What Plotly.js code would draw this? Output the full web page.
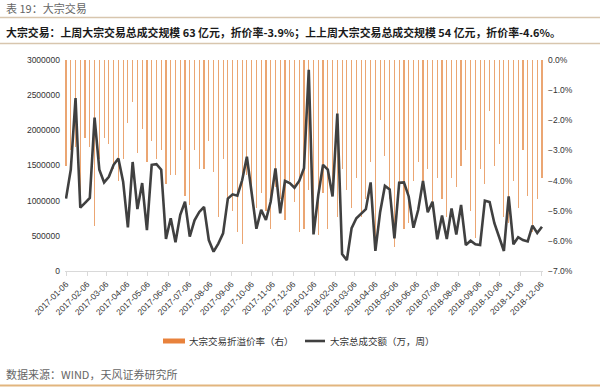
<!DOCTYPE html>
<html>
<head>
<meta charset="utf-8">
<script src="https://cdn.plot.ly/plotly-3.0.1.min.js"></script>
<style>
html,body{margin:0;padding:0;background:#fff;}
#chart{width:600px;height:387px;}
</style>
</head>
<body>
<div id="chart"></div>
<script>
// Weekly dates (categories)
const weeks = ['2017-01-06','2017-01-13','2017-01-20','2017-01-27','2017-02-03','2017-02-10','2017-02-17','2017-02-24','2017-03-03','2017-03-10','2017-03-17','2017-03-24','2017-03-31','2017-04-07','2017-04-14','2017-04-21','2017-04-28','2017-05-05','2017-05-12','2017-05-19','2017-05-26','2017-06-02','2017-06-09','2017-06-16','2017-06-23','2017-06-30','2017-07-07','2017-07-14','2017-07-21','2017-07-28','2017-08-04','2017-08-11','2017-08-18','2017-08-25','2017-09-01','2017-09-08','2017-09-15','2017-09-22','2017-09-29','2017-10-06','2017-10-13','2017-10-20','2017-10-27','2017-11-03','2017-11-10','2017-11-17','2017-11-24','2017-12-01','2017-12-08','2017-12-15','2017-12-22','2017-12-29','2018-01-05','2018-01-12','2018-01-19','2018-01-26','2018-02-02','2018-02-09','2018-02-16','2018-02-23','2018-03-02','2018-03-09','2018-03-16','2018-03-23','2018-03-30','2018-04-06','2018-04-13','2018-04-20','2018-04-27','2018-05-04','2018-05-11','2018-05-18','2018-05-25','2018-06-01','2018-06-08','2018-06-15','2018-06-22','2018-06-29','2018-07-06','2018-07-13','2018-07-20','2018-07-27','2018-08-03','2018-08-10','2018-08-17','2018-08-24','2018-08-31','2018-09-07','2018-09-14','2018-09-21','2018-09-28','2018-10-05','2018-10-12','2018-10-19','2018-10-26','2018-11-02','2018-11-09','2018-11-16','2018-11-23','2018-11-30','2018-12-07'];

// 大宗交易折溢价率（右）, %
const discountRate = [-3.5,-3.0,-2.9,-4.4,-2.6,-2.9,-5.5,-3.3,-2.6,-2.8,
  -3.6,-4.0,-3.3,-2.1,-1.4,-3.1,-2.3,-3.4,-2.7,-3.3,
  -3.0,-4.1,-3.8,-3.8,-3.0,-4.5,-4.8,-3.0,-3.6,-3.6,
  -2.7,-3.7,-5.2,-3.3,-4.7,-5.0,-5.7,-6.1,-3.8,-4.5,
  -4.9,-4.4,-5.0,-5.6,-4.2,-4.6,-5.3,-4.0,-4.7,-5.7,
  -5.6,-4.3,-5.1,-5.8,-4.4,-5.6,-4.0,-5.2,-3.6,-4.3,
  -4.9,-3.9,-5.2,-4.6,-3.4,-6.1,-2.0,-3.2,-4.6,-6.2,
  -4.2,-5.6,-5.4,-4.0,-3.4,-4.0,-3.6,-4.9,-3.9,-4.6,
  -5.2,-3.9,-4.2,-3.5,-3.0,-5.0,-5.9,-3.6,-4.1,-1.7,
  -3.5,-2.8,-5.2,-5.4,-4.0,-4.9,-3.0,-4.5,-5.7,-4.6,-3.9];

// 大宗总成交额（万，周）
const turnover = [1030000,1440000,2460000,900000,970000,1040000,2180000,1440000,1260000,1340000,
  1510000,1600000,1270000,620000,1550000,880000,1250000,580000,1510000,1520000,
  1440000,455000,750000,410000,800000,985000,490000,720000,840000,910000,
  440000,275000,390000,535000,1030000,1090000,1070000,1290000,1625000,1080000,
  600000,870000,725000,985000,1460000,820000,1280000,1250000,1185000,1280000,
  1460000,2860000,520000,1080000,1510000,1440000,1060000,2240000,240000,155000,
  610000,750000,810000,880000,1260000,285000,840000,1210000,1160000,465000,
  1255000,1260000,1060000,615000,870000,1280000,835000,985000,450000,790000,
  455000,890000,520000,940000,370000,430000,380000,370000,1000000,980000,
  680000,490000,285000,1060000,380000,480000,440000,420000,645000,540000,630000];

// Monthly tick labels
const monthTicks = ['2017-01-06','2017-02-06','2017-03-06','2017-04-06','2017-05-06','2017-06-06','2017-07-06','2017-08-06','2017-09-06','2017-10-06','2017-11-06','2017-12-06','2018-01-06','2018-02-06','2018-03-06','2018-04-06','2018-05-06','2018-06-06','2018-07-06','2018-08-06','2018-09-06','2018-10-06','2018-11-06','2018-12-06'];

const seriesNames = ['大宗交易折溢价率（右）','大宗总成交额（万，周）'];
const headerText = '表 19：大宗交易';
const summaryText = '大宗交易：上周大宗交易总成交规模 63 亿元，折价率-3.9%；上上周大宗交易总成交规模 54 亿元，折价率-4.6%。';
const sourceText = '数据来源：WIND，天风证券研究所';

const L = 65, R = 543, T = 60, B = 271;
const W = 600, H = 387;
const px = x => (x - L) / (R - L);
const py = y => (B - y) / (B - T);

const cjk = '"Noto Sans CJK SC", "Noto Sans", sans-serif';
const num = '"Liberation Sans", Arial, sans-serif';

const traces = [
  {
    type: 'bar', x: weeks, y: discountRate, name: seriesNames[0],
    yaxis: 'y', width: 1.7 * 86400000,
    marker: {color: '#EBA673', line: {width: 0}},
    hoverinfo: 'skip'
  },
  {
    type: 'scatter', mode: 'lines', x: weeks, y: turnover, name: seriesNames[1],
    yaxis: 'y2', line: {color: '#404040', width: 2.6}, hoverinfo: 'skip'
  }
];

const layout = {
  width: W, height: H,
  margin: {l: L, r: W - R, t: T, b: H - B, pad: 0},
  paper_bgcolor: '#fff', plot_bgcolor: '#fff',
  showlegend: false,
  bargap: 0,
  xaxis: {
    type: 'date', range: ['2017-01-04 12:00', '2018-12-08 12:00'],
    tickmode: 'array', tickvals: monthTicks, ticktext: monthTicks,
    tickangle: -45, tickfont: {family: num, size: 8.5, color: '#333333'},
    showgrid: false, zeroline: false,
    showline: true, linecolor: '#D9D9D9', linewidth: 1,
    ticks: 'outside', ticklen: 4, tickcolor: '#D9D9D9'
  },
  yaxis: {
    side: 'right', range: [-7, 0], dtick: 1, tickformat: '.1f', ticksuffix: '%',
    tickfont: {family: num, size: 8.5, color: '#333333'},
    showgrid: false, zeroline: false, showline: false, ticks: '', ticklabelstandoff: 4
  },
  yaxis2: {
    overlaying: 'y', side: 'left', range: [0, 3000000], dtick: 500000, tickformat: 'd',
    tickfont: {family: num, size: 8.5, color: '#333333'},
    showgrid: false, zeroline: false, showline: false, ticks: '', ticklabelstandoff: 4
  },
  shapes: [
    {type: 'line', xref: 'paper', yref: 'paper', x0: px(0), x1: px(600), y0: py(17.5), y1: py(17.5), line: {color: '#D8C6AE', width: 1.5}},
    {type: 'line', xref: 'paper', yref: 'paper', x0: px(0), x1: px(600), y0: py(43.5), y1: py(43.5), line: {color: '#D8C6AE', width: 1.5}},
    {type: 'line', xref: 'paper', yref: 'paper', x0: px(0), x1: px(600), y0: py(385.5), y1: py(385.5), line: {color: '#E2B57E', width: 2}},
    {type: 'rect', xref: 'paper', yref: 'paper', x0: px(163), x1: px(185), y0: py(338.5), y1: py(343.5), fillcolor: '#E8823C', line: {width: 0}},
    {type: 'line', xref: 'paper', yref: 'paper', x0: px(305), x1: px(325), y0: py(341), y1: py(341), line: {color: '#404040', width: 2.6}}
  ],
  annotations: [
    {xref: 'paper', yref: 'paper', x: px(4), y: py(8), xanchor: 'left', yanchor: 'middle', showarrow: false,
     text: headerText, font: {family: cjk, size: 11, color: '#666666'}},
    {xref: 'paper', yref: 'paper', x: px(4), y: py(32), xanchor: 'left', yanchor: 'middle', showarrow: false,
     text: '<b>' + summaryText + '</b>', font: {family: cjk, size: 10.9, color: '#1a1a1a'}},
    {xref: 'paper', yref: 'paper', x: px(4), y: py(374), xanchor: 'left', yanchor: 'middle', showarrow: false,
     text: sourceText, font: {family: cjk, size: 11, color: '#666666'}},
    {xref: 'paper', yref: 'paper', x: px(187), y: py(341), xanchor: 'left', yanchor: 'middle', showarrow: false,
     text: seriesNames[0], font: {family: cjk, size: 9.5, color: '#333333'}},
    {xref: 'paper', yref: 'paper', x: px(328), y: py(341), xanchor: 'left', yanchor: 'middle', showarrow: false,
     text: seriesNames[1], font: {family: cjk, size: 9.5, color: '#333333'}}
  ]
};

Plotly.newPlot('chart', traces, layout, {displayModeBar: false, staticPlot: true});
</script>
</body>
</html>
